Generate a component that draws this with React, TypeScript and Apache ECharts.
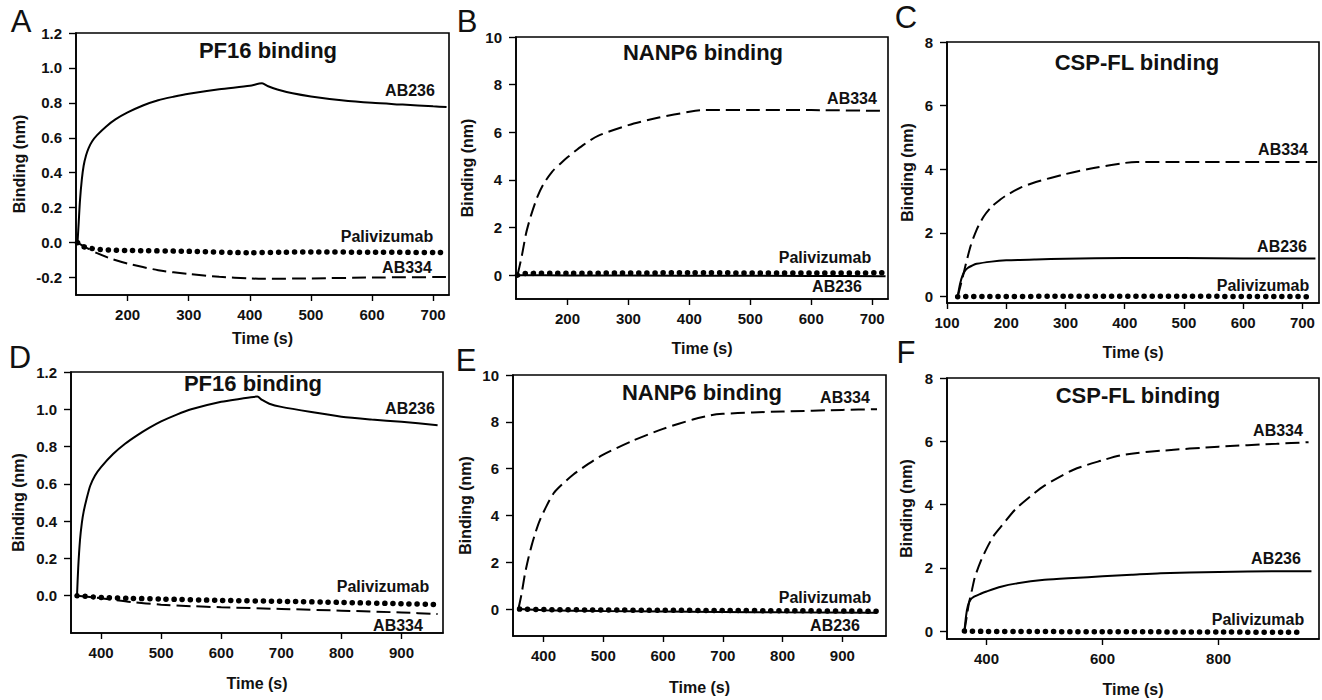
import React, { useEffect, useRef } from 'react';
import * as echarts from 'echarts';

const FONT = '"Liberation Sans", Arial, Helvetica, sans-serif';

// ---------- Data (time s, binding nm) ----------
// Panel A – PF16 binding
const A_AB236 = [[118,0],[120,0.12],[122,0.24],[125,0.36],[128,0.44],[132,0.5],[136,0.54],[142,0.58],[150,0.615],[165,0.665],[180,0.705],[200,0.745],[225,0.785],[250,0.815],[275,0.835],[300,0.852],[350,0.878],[400,0.898],[420,0.912],[430,0.895],[445,0.877],[470,0.855],[500,0.837],[550,0.815],[600,0.8],[650,0.79],[700,0.78],[722,0.776]];
const A_PALI = [[118,0],[125,-0.02],[135,-0.03],[150,-0.038],[175,-0.043],[200,-0.045],[300,-0.05],[400,-0.058],[450,-0.055],[500,-0.054],[600,-0.055],[720,-0.057]];
const A_AB334 = [[118,0],[130,-0.025],[150,-0.06],[175,-0.095],[200,-0.12],[250,-0.158],[300,-0.18],[350,-0.196],[400,-0.205],[420,-0.207],[500,-0.205],[600,-0.2],[722,-0.197]];
// Panel B – NANP6 binding
const B_AB334 = [[118,0],[125,0.8],[132,1.75],[140,2.5],[150,3.25],[160,3.8],[175,4.35],[190,4.72],[200,4.95],[225,5.45],[250,5.85],[300,6.3],[350,6.62],[400,6.86],[420,6.93],[450,6.94],[500,6.94],[600,6.93],[722,6.9]];
const B_PALI = [[118,0],[125,0.07],[200,0.08],[400,0.1],[600,0.09],[720,0.1]];
const B_AB236 = [[118,0],[200,-0.01],[400,-0.02],[600,-0.03],[722,-0.05]];
// Panel C – CSP-FL binding
const C_AB334 = [[118,0],[125,0.5],[131,0.96],[140,1.6],[150,2.1],[162,2.52],[175,2.82],[190,3.05],[200,3.18],[225,3.43],[250,3.6],[300,3.85],[350,4.05],[400,4.2],[420,4.23],[500,4.23],[600,4.23],[725,4.23]];
const C_AB236 = [[118,0],[122,0.4],[126,0.65],[130,0.8],[135,0.9],[142,0.97],[150,1.03],[175,1.1],[200,1.14],[250,1.17],[300,1.19],[400,1.21],[500,1.21],[600,1.2],[722,1.2]];
const C_PALI = [[118,0],[300,0.01],[500,0.01],[710,0.0]];
// Panel D – PF16 binding
const D_AB236 = [[360,0],[362,0.15],[365,0.3],[368,0.39],[371,0.45],[376,0.52],[382,0.59],[390,0.645],[400,0.69],[420,0.76],[440,0.815],[460,0.86],[480,0.9],[500,0.935],[525,0.97],[550,1.0],[600,1.04],[630,1.055],[660,1.068],[668,1.05],[680,1.03],[700,1.013],[750,0.985],[800,0.96],[850,0.945],[900,0.933],[960,0.915]];
const D_PALI = [[360,0],[400,-0.009],[450,-0.014],[500,-0.018],[600,-0.025],[700,-0.03],[800,-0.036],[900,-0.043],[960,-0.047]];
const D_AB334 = [[360,0],[400,-0.014],[450,-0.034],[500,-0.048],[550,-0.056],[600,-0.062],[700,-0.071],[800,-0.08],[900,-0.09],[960,-0.098]];
// Panel E – NANP6 binding
const E_AB334 = [[358,0],[363,0.6],[369,1.5],[375,2.2],[380,2.7],[387,3.3],[394,3.8],[405,4.4],[417,4.95],[430,5.3],[450,5.75],[475,6.2],[500,6.6],[550,7.2],[600,7.7],[650,8.1],[680,8.28],[700,8.34],[750,8.4],[800,8.44],[900,8.51],[958,8.54]];
const E_PALI = [[360,0],[400,-0.02],[500,-0.04],[600,-0.05],[700,-0.06],[800,-0.07],[958,-0.09]];
const E_AB236 = [[360,0],[400,-0.05],[500,-0.08],[600,-0.1],[700,-0.12],[800,-0.14],[958,-0.16]];
// Panel F – CSP-FL binding
const F_AB334 = [[362,0],[366,0.45],[370,0.9],[375,1.3],[380,1.7],[390,2.2],[400,2.6],[412,3.0],[425,3.3],[450,3.85],[475,4.25],[500,4.6],[550,5.1],[600,5.4],[630,5.55],[660,5.63],[700,5.7],[800,5.83],[900,5.92],[955,5.97]];
const F_AB236 = [[362,0],[365,0.5],[368,0.8],[372,0.98],[378,1.08],[390,1.18],[400,1.25],[425,1.4],[450,1.5],[500,1.62],[550,1.68],[600,1.73],[650,1.78],[700,1.83],[800,1.87],[900,1.89],[960,1.89]];
const F_PALI = [[362,0],[400,-0.01],[600,-0.02],[800,-0.03],[935,-0.04]];

// ---------- Tick labels ----------
const X_TICKS_TOP = [200, 300, 400, 500, 600, 700];
const X_TICKS_C = [100, 200, 300, 400, 500, 600, 700];
const X_TICKS_DE = [400, 500, 600, 700, 800, 900];
const X_TICKS_F = [400, 600, 800];
const Y_TICKS_A = [-0.2, 0, 0.2, 0.4, 0.6, 0.8, 1.0, 1.2];
const Y_TICKS_D = [0, 0.2, 0.4, 0.6, 0.8, 1.0, 1.2];
const Y_TICKS_NANP = [0, 2, 4, 6, 8, 10];
const Y_TICKS_CSP = [0, 2, 4, 6, 8];

type Lbl = [string, number, number];
type Panel = {
  letter: string; letterPos: [number, number];
  title: string; titlePos: [number, number];
  grid: { left: number; top: number; width: number; height: number };
  x: [number, number]; xTicks: number[]; xGap: number;
  y: [number, number]; yTicks: number[]; yDec: number; yGap: number;
  lines: { data: number[][]; kind: 'solid' | 'dash' | 'dot' }[];
  labels: Lbl[];
};

const panels: Panel[] = [
  {
    letter: 'A', letterPos: [21, 21], title: 'PF16 binding', titlePos: [268, 50],
    grid: { left: 76, top: 33, width: 373, height: 262 },
    x: [115.5, 726], xTicks: X_TICKS_TOP, xGap: 35,
    y: [-0.3, 1.2], yTicks: Y_TICKS_A, yDec: 1, yGap: 49,
    lines: [{ data: A_AB236, kind: 'solid' }, { data: A_AB334, kind: 'dash' }, { data: A_PALI, kind: 'dot' }],
    labels: [['AB236', 410, 90], ['Palivizumab', 387, 236], ['AB334', 407, 267]],
  },
  {
    letter: 'B', letterPos: [467, 21], title: 'NANP6 binding', titlePos: [703, 52],
    grid: { left: 516, top: 37, width: 372, height: 262 },
    x: [115.5, 726], xTicks: X_TICKS_TOP, xGap: 41,
    y: [-1, 10], yTicks: Y_TICKS_NANP, yDec: 0, yGap: 41,
    lines: [{ data: B_AB334, kind: 'dash' }, { data: B_AB236, kind: 'solid' }, { data: B_PALI, kind: 'dot' }],
    labels: [['AB334', 852, 98], ['Palivizumab', 825, 257], ['AB236', 837, 286]],
  },
  {
    letter: 'C', letterPos: [906, 17], title: 'CSP-FL binding', titlePos: [1137, 62],
    grid: { left: 947, top: 42, width: 372, height: 261 },
    x: [100, 728], xTicks: X_TICKS_C, xGap: 41,
    y: [-0.2, 8], yTicks: Y_TICKS_CSP, yDec: 0, yGap: 32,
    lines: [{ data: C_AB334, kind: 'dash' }, { data: C_AB236, kind: 'solid' }, { data: C_PALI, kind: 'dot' }],
    labels: [['AB334', 1283, 149], ['AB236', 1282, 246], ['Palivizumab', 1263, 285]],
  },
  {
    letter: 'D', letterPos: [20, 357], title: 'PF16 binding', titlePos: [253, 383],
    grid: { left: 71, top: 372, width: 372, height: 261 },
    x: [350, 969], xTicks: X_TICKS_DE, xGap: 42,
    y: [-0.2, 1.2], yTicks: Y_TICKS_D, yDec: 1, yGap: 45,
    lines: [{ data: D_AB236, kind: 'solid' }, { data: D_AB334, kind: 'dash' }, { data: D_PALI, kind: 'dot' }],
    labels: [['AB236', 410, 408], ['Palivizumab', 383, 586], ['AB334', 398, 625]],
  },
  {
    letter: 'E', letterPos: [466, 360], title: 'NANP6 binding', titlePos: [702, 392],
    grid: { left: 513, top: 375, width: 373, height: 261 },
    x: [349, 973], xTicks: X_TICKS_DE, xGap: 43,
    y: [-1.15, 10], yTicks: Y_TICKS_NANP, yDec: 0, yGap: 40,
    lines: [{ data: E_AB334, kind: 'dash' }, { data: E_AB236, kind: 'solid' }, { data: E_PALI, kind: 'dot' }],
    labels: [['AB334', 845, 397], ['Palivizumab', 825, 597], ['AB236', 835, 625]],
  },
  {
    letter: 'F', letterPos: [906, 352], title: 'CSP-FL binding', titlePos: [1138, 395],
    grid: { left: 947, top: 378, width: 372, height: 261 },
    x: [332, 973], xTicks: X_TICKS_F, xGap: 42,
    y: [-0.25, 8], yTicks: Y_TICKS_CSP, yDec: 0, yGap: 33,
    lines: [{ data: F_AB334, kind: 'dash' }, { data: F_AB236, kind: 'solid' }, { data: F_PALI, kind: 'dot' }],
    labels: [['AB334', 1278, 430], ['AB236', 1276, 558], ['Palivizumab', 1258, 619]],
  },
];

function buildOption() {
  const grids: any[] = [];
  const xAxes: any[] = [];
  const yAxes: any[] = [];
  const series: any[] = [];
  const graphics: any[] = [];
  const axisLine = { show: true, onZero: false, lineStyle: { color: '#000', width: 1.6 } };
  const labelStyle = { color: '#111', fontFamily: FONT, fontWeight: 'bold', fontSize: 15 };
  const nameStyle = { color: '#111', fontFamily: FONT, fontWeight: 'bold', fontSize: 16 };

  panels.forEach((p, i) => {
    grids.push({ ...p.grid, show: true, borderColor: '#000', borderWidth: 1.6, backgroundColor: 'transparent', containLabel: false });
    xAxes.push({
      type: 'value', gridIndex: i, min: p.x[0], max: p.x[1],
      axisLine, splitLine: { show: false },
      axisTick: { show: true, length: 6, lineStyle: { color: '#000', width: 1.4 }, customValues: p.xTicks },
      axisLabel: { ...labelStyle, margin: 12, customValues: p.xTicks, formatter: (v: number) => String(Math.round(v)) },
      name: 'Time (s)', nameLocation: 'middle', nameGap: p.xGap, nameTextStyle: nameStyle,
    });
    yAxes.push({
      type: 'value', gridIndex: i, min: p.y[0], max: p.y[1],
      axisLine, splitLine: { show: false },
      axisTick: { show: true, length: 7, lineStyle: { color: '#000', width: 1.4 }, customValues: p.yTicks },
      axisLabel: { ...labelStyle, margin: 14, customValues: p.yTicks, formatter: (v: number) => v.toFixed(p.yDec) },
      name: 'Binding (nm)', nameLocation: 'middle', nameGap: p.yGap, nameRotate: 90, nameTextStyle: nameStyle,
    });
    p.lines.forEach((l) => {
      let lineStyle: any;
      if (l.kind === 'solid') lineStyle = { color: '#000', width: 2, type: 'solid' };
      else if (l.kind === 'dash') lineStyle = { color: '#000', width: 2, type: [14, 6] };
      else lineStyle = { color: '#000', width: 5.5, type: [0.1, 8], cap: 'round' };
      series.push({
        type: 'line', xAxisIndex: i, yAxisIndex: i, data: l.data,
        showSymbol: false, symbol: 'none', smooth: 0.25, lineStyle, silent: true, z: l.kind === 'dot' ? 3 : 2,
      });
    });
    graphics.push({
      type: 'text', x: p.letterPos[0], y: p.letterPos[1],
      style: { text: p.letter, fontFamily: FONT, fontSize: 31, fontWeight: 'normal', fill: '#111', align: 'center', verticalAlign: 'middle' },
    });
    graphics.push({
      type: 'text', x: p.titlePos[0], y: p.titlePos[1],
      style: { text: p.title, fontFamily: FONT, fontSize: 22, fontWeight: 'bold', fill: '#111', align: 'center', verticalAlign: 'middle' },
    });
    p.labels.forEach(([t, x, y]) => {
      graphics.push({
        type: 'text', x, y,
        style: { text: t, fontFamily: FONT, fontSize: 16, fontWeight: 'bold', fill: '#111', align: 'center', verticalAlign: 'middle' },
      });
    });
  });

  return {
    animation: false,
    backgroundColor: '#ffffff',
    grid: grids,
    xAxis: xAxes,
    yAxis: yAxes,
    series,
    graphic: { elements: graphics },
  };
}

export default function App() {
  const ref = useRef<HTMLDivElement>(null);
  useEffect(() => {
    if (!ref.current) return;
    const chart = echarts.init(ref.current, undefined, { renderer: 'svg' });
    chart.setOption(buildOption() as any);
    return () => chart.dispose();
  }, []);
  return (
    <div
      ref={ref}
      style={{ position: 'fixed', left: 0, top: 0, width: 1322, height: 700, background: '#fff' }}
    />
  );
}
